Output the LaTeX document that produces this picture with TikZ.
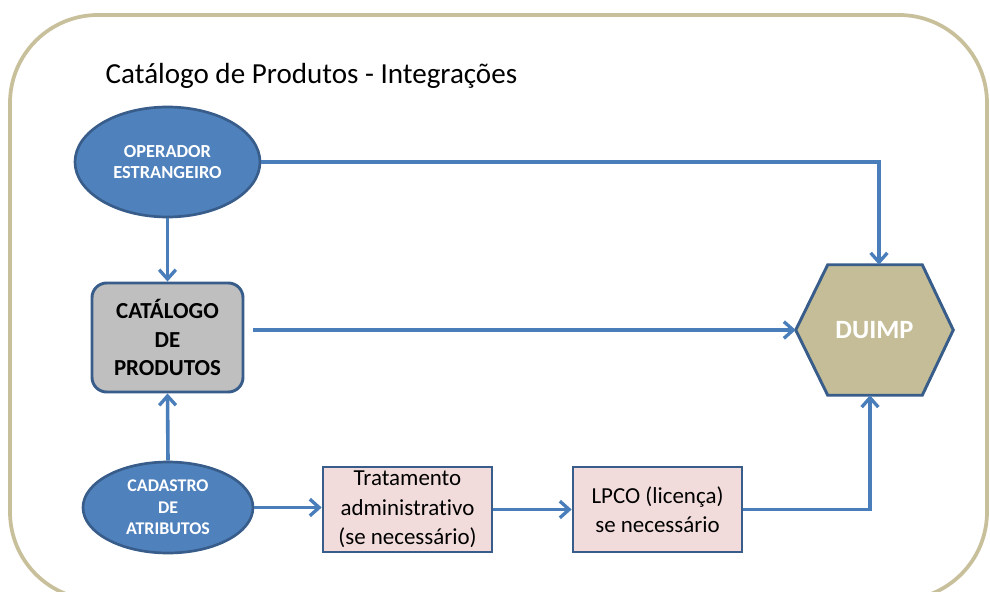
\documentclass[tikz,border=0pt]{standalone}
\usepackage{fontspec}
\setmainfont{Carlito}[Ligatures=NoCommon]
\usetikzlibrary{shapes.geometric,arrows.meta,calc}
\definecolor{ellfill}{HTML}{4F81BD}
\definecolor{bordc}{HTML}{385D8A}
\definecolor{catfill}{HTML}{BFBFBF}
\definecolor{pinkfill}{HTML}{F2DCDB}
\definecolor{hexfill}{HTML}{C4BD97}
\definecolor{framec}{HTML}{C8BF9B}
\definecolor{arrc}{HTML}{4A7EBB}
\tikzset{
  ellnode/.style={ellipse, fill=ellfill, draw=bordc, line width=2pt, inner sep=0pt, text=white, align=center},
  catbox/.style={rectangle, rounded corners=11pt, fill=catfill, draw=bordc, line width=2.2pt, inner sep=0pt, align=center,
    minimum width=113.25pt, minimum height=81.75pt, font=\fontsize{17.2}{21.4}\selectfont\bfseries},
  pinkbox/.style={rectangle, fill=pinkfill, draw=bordc, line width=2pt, inner sep=0pt, align=center,
    minimum width=126.75pt, minimum height=63.75pt, font=\fontsize{17.2}{22}\selectfont},
  arr/.style={draw=arrc, line width=2.7pt, -{Straight Barb[length=7pt,width=12.5pt,line width=2.5pt]}},
}
\begin{document}
\begin{tikzpicture}[x=0.75pt,y=-0.75pt]
\useasboundingbox (0,0) rectangle (990,592);
\begin{scope}
\clip (0,0) rectangle (990,592);
\fill[white] (0,0) rectangle (990,592);
\draw[framec, line width=2.8pt, rounded corners=66pt] (10,15) rectangle (987,600);
\end{scope}

\node[anchor=west, font=\fontsize{21.8}{26}\selectfont] (title) at (101,76) {Catálogo de Produtos - Integrações};

\node[ellnode, minimum width=138.75pt, minimum height=82.5pt, font=\fontsize{13.8}{15.2}\selectfont\bfseries] (op) at (167.5,162) {OPERADOR\\ESTRANGEIRO};
\node[catbox] (cat) at (167.5,337.5) {CATÁLOGO\\DE\\PRODUTOS};
\node[ellnode, minimum width=127.5pt, minimum height=68.25pt, font=\fontsize{13.4}{16}\selectfont\bfseries] (cad) at (168,507.5) {CADASTRO\\DE\\ATRIBUTOS};
\node[pinkbox] (trat) at (407.5,509.5) {Tratamento\\administrativo\\(se necessário)};
\node[pinkbox] (lpco) at (657.5,509.5) {LPCO (licença)\\se necessário};

\node[rectangle, minimum width=117.75pt, minimum height=97.5pt, inner sep=0pt] (duimp) at (874.5,330) {};
\draw[fill=hexfill, draw=bordc, line width=2.2pt, line join=miter]
  ($(duimp.north west)+(32,0)$) -- ($(duimp.north east)+(-31,0)$) -- (duimp.east)
  -- ($(duimp.south east)+(-31,0)$) -- ($(duimp.south west)+(32,0)$) -- (duimp.west) -- cycle;
\node[text=white, font=\fontsize{19.8}{24}\selectfont\bfseries] (duimptext) at (duimp.center) {DUIMP};

\draw[arr] (op.south) -- (cat.north);
\draw[arr] (op.east) -| ($(duimp.north)+(4.5,0)$);
\draw[arr] ($(cat.east|-duimp.west)+(9,0)$) -- (duimp.west);
\draw[arr] (cad.north) -- (cat.south);
\draw[arr] (cad.east) -- (cad.east -| trat.west);
\draw[arr] (trat.east) -- (lpco.west);
\draw[arr] (lpco.east) -| ($(duimp.south)+(-4.5,0)$);
\end{tikzpicture}
\end{document}
